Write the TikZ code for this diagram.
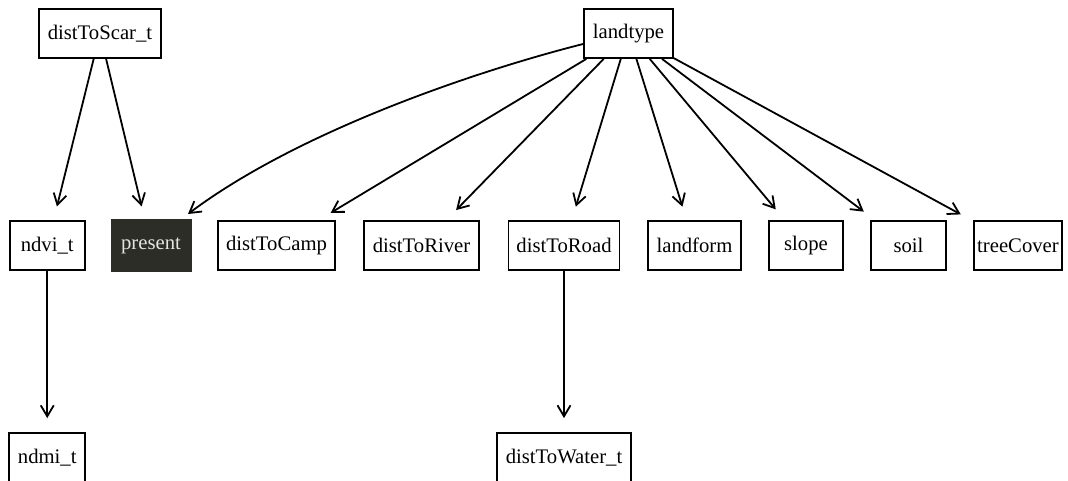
\documentclass[tikz,border=0pt]{standalone}
\usepackage{fontspec}
\setmainfont{Liberation Serif}
\usetikzlibrary{arrows.meta}
\definecolor{darkfill}{RGB}{45,45,40}
\definecolor{lighttext}{RGB}{228,228,225}
\begin{document}
\begin{tikzpicture}[x=1pt,y=-1pt,
  var/.style={draw=black, line width=1.8pt, rectangle, inner sep=0pt,
    minimum height=49pt, font=\fontsize{20.7}{24}\selectfont},
  target/.style={var, draw=darkfill, fill=darkfill, text=lighttext, line width=0pt},
  edge/.style={line width=1.8pt, -{Straight Barb[length=11pt,width=13pt,line width=1.8pt]}, shorten >=14pt}]
\useasboundingbox (0,0) rectangle (1068,481);

% top row
\node[var, minimum width=122pt] (scar) at (100,33.5) {distToScar\_t};
\node[var, minimum width=89pt] (landtype) at (628.5,33.5) {landtype};

% middle row
\node[var, minimum width=75pt] (ndvi) at (47.25,245.5) {ndvi\_t};
\node[target, minimum width=80pt, minimum height=51pt] (present) at (151,245.5) {present};
\node[var, minimum width=117pt] (camp) at (276.5,245.5) {distToCamp};
\node[var, minimum width=115pt] (river) at (421.5,245.5) {distToRiver};
\node[var, minimum width=111pt] (road) at (564,245.5) {distToRoad};
\node[var, minimum width=93pt] (landform) at (694.5,245.5) {landform};
\node[var, minimum width=74pt] (slope) at (806,245.5) {slope};
\node[var, minimum width=75pt] (soil) at (908.5,245.5) {soil};
\node[var, minimum width=88pt] (treecover) at (1018,245.5) {treeCover};

% bottom row
\node[var, minimum width=76pt] (ndmi) at (47.25,457.5) {ndmi\_t};
\node[var, minimum width=134pt] (water) at (564,457.5) {distToWater\_t};

% edges
\draw[edge] (scar) -- (ndvi);
\draw[edge] (scar) -- (present);
\draw[line width=1.8pt, -{Straight Barb[length=11pt,width=13pt,line width=1.8pt]}]
  ([shift={(0,10.5)}]landtype.west) .. controls (480,70) and (300,130) .. ([shift={(-3,-6)}]present.north east);
\draw[edge] (landtype) -- (camp);
\draw[edge] (landtype) -- (river);
\draw[edge] (landtype) -- (road);
\draw[edge] (landtype) -- (landform);
\draw[edge] (landtype) -- (slope);
\draw[edge] (landtype) -- (soil);
\draw[edge] (landtype) -- (treecover);
\draw[edge] (ndvi) -- (ndmi);
\draw[edge] (road) -- (water);
\end{tikzpicture}
\end{document}
